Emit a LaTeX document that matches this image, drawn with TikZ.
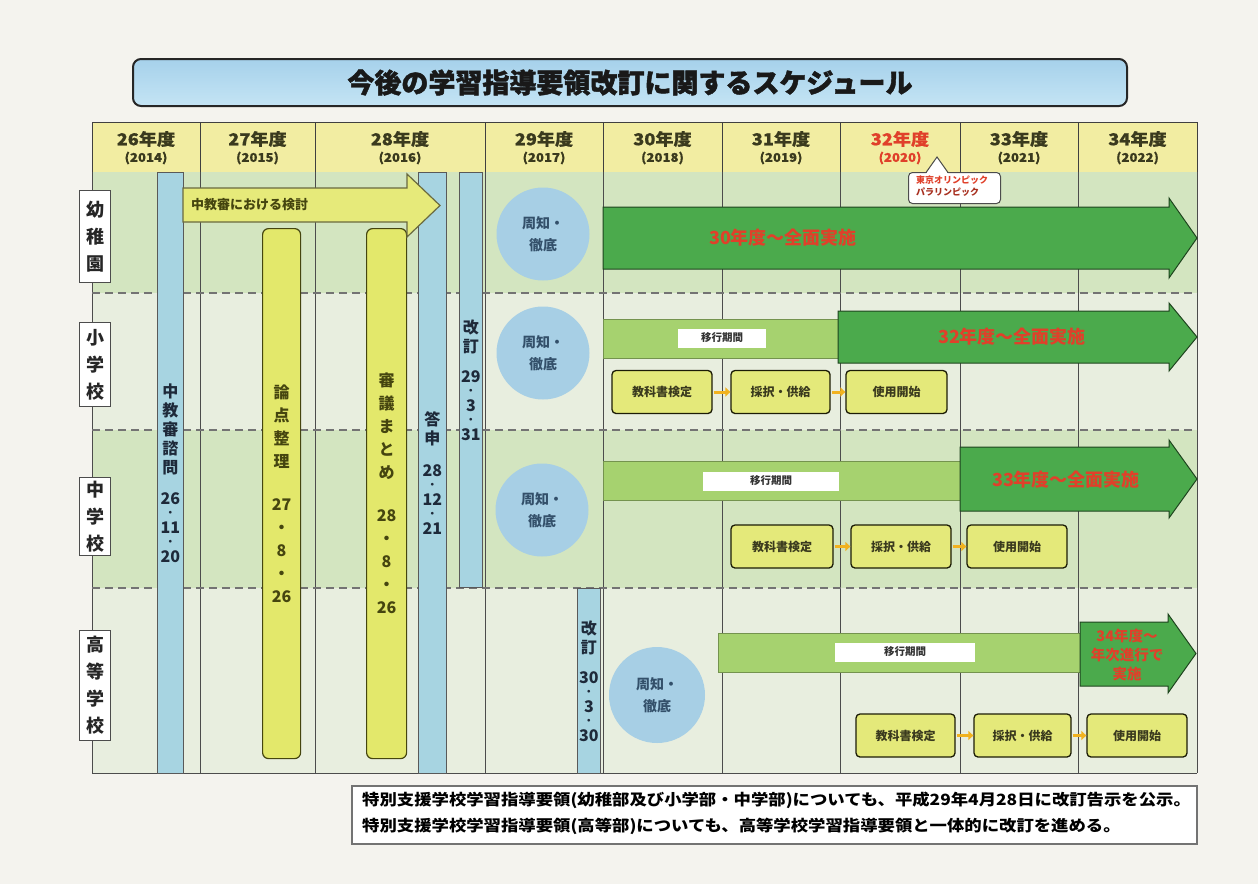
\documentclass[tikz,border=0pt]{standalone}
\usepackage{fontspec}
\setmainfont{Noto Sans CJK JP}
\newfontfamily\heavyfont{Noto Sans CJK JP}[BoldFeatures={FakeBold=1.6}]
\newfontfamily\widefont{Noto Sans CJK JP}[FakeStretch=1.12]
\newfontfamily\hdrfont{Noto Sans CJK JP}[FakeStretch=1.1, BoldFeatures={FakeBold=0.6}]
\usetikzlibrary{arrows.meta,shapes.geometric}
\definecolor{bg}{HTML}{F4F3EE}
\definecolor{hdrY}{HTML}{F2EDA2}
\definecolor{rowA}{HTML}{D3E5C0}
\definecolor{rowB}{HTML}{E8EEDF}
\definecolor{barB}{HTML}{A7D4E1}
\definecolor{circB}{HTML}{A7CFE5}
\definecolor{barY}{HTML}{E3E86B}
\definecolor{boxY}{HTML}{E4E97A}
\definecolor{dkG}{HTML}{4BAA4C}
\definecolor{ltG}{HTML}{A6D26F}
\definecolor{redT}{HTML}{E0402A}
\definecolor{darkT}{HTML}{3A3A1E}
\definecolor{oliveT}{HTML}{45450F}
\definecolor{navyT}{HTML}{1E2A3A}
\definecolor{circT}{HTML}{33506A}
\definecolor{orng}{HTML}{F1B21F}
\definecolor{ttop}{HTML}{A6D1EB}
\definecolor{tmid}{HTML}{ECF6FB}
\definecolor{tbot}{HTML}{C4E4F4}
\newcommand\fatarrow[8]{%
  \draw[#1] (#2,#3) -- (#5,#3) -- (#5,#6) -- (#8,{(#6+#7)/2}) -- (#5,#7) -- (#5,#4) -- (#2,#4) -- cycle;}
\newcommand\smalldot{{\fontsize{10}{10}\selectfont ・}}
\tikzset{
  hdrcell/.style={draw=black!75, line width=0.8pt, fill=hdrY},
  hyear/.style={font=\hdrfont\bfseries\fontsize{16.5}{16}\selectfont, text=darkT, inner sep=0pt},
  hsub/.style={font=\hdrfont\bfseries\fontsize{12}{12}\selectfont, text=darkT, inner sep=0pt},
  gridline/.style={draw=black!70, line width=0.8pt},
  dashline/.style={draw=black!55, line width=1.6pt, dash pattern=on 8pt off 5pt},
  bluebar/.style={draw=black!65, line width=0.8pt, fill=barB, inner sep=0pt, align=center, text=navyT, font=\bfseries\fontsize{16}{19}\selectfont, anchor=north west},
  yelbar/.style={draw=oliveT, line width=1.2pt, fill=barY, rounded corners=6pt, inner sep=0pt, align=center, text=oliveT, font=\bfseries\fontsize{16}{23}\selectfont, anchor=north west},
  yelarrow/.style={draw=oliveT!80, line width=1.2pt, fill=barY!90!white},
  dkarrow/.style={draw=black!60!dkG, line width=1pt, fill=dkG},
  ltbar/.style={draw=black!30!ltG, line width=0.8pt, fill=ltG},
  circ/.style={circle, fill=circB, minimum size=93pt, inner sep=0pt, align=center, text=circT, font=\bfseries\fontsize{14}{22}\selectfont},
  ikolab/.style={fill=white, inner sep=0pt, minimum height=19pt, text=black!80, font=\bfseries\fontsize{10.5}{10}\selectfont},
  bigtxt/.style={text=redT, font=\bfseries\fontsize{18}{18}\selectfont, inner sep=0pt},
  sbox/.style={draw=black!60!oliveT, line width=1.3pt, fill=boxY, rounded corners=4pt, minimum height=43pt, inner sep=0pt, text=darkT, font=\bfseries\fontsize{12}{12}\selectfont},
  conn/.style={draw=orng, line width=3pt, -{Triangle[width=9pt,length=5pt]}, shorten <=1pt, shorten >=0pt},
  lab/.style={draw=black!70, line width=1pt, fill=white, minimum width=31pt, inner sep=0pt, align=center, text=black!85, font=\bfseries\fontsize{18}{27}\selectfont, anchor=north west},
}
\begin{document}
\begin{tikzpicture}[x=1pt,y=-1pt]
\useasboundingbox (0,0) rectangle (1258,884);
\fill[bg] (0,0) rectangle (1258,884);

% title
\node[draw=black!85, line width=2pt, rounded corners=8pt, minimum width=994pt, minimum height=47pt, anchor=north west,
      top color=ttop, middle color=tmid, bottom color=tbot,
      font=\heavyfont\bfseries\fontsize{27}{27}\selectfont, text=black!90] (title) at (132,58) {今後の学習指導要領改訂に関するスケジュール};

% header
\foreach \a/\b/\yr/\wy/\c [count=\i] in {92/200/26/2014/darkT, 200/315/27/2015/darkT, 315/485/28/2016/darkT, 485/603/29/2017/darkT, 603/722/30/2018/darkT, 722/840/31/2019/darkT, 840/960/32/2020/redT, 960/1078/33/2021/darkT, 1078/1197/34/2022/darkT}{
  \draw[hdrcell] (\a,122) rectangle (\b,172);
  \node[hyear, text=\c] (hy\i) at ({(\a+\b)/2},139) {\yr 年度};
  \node[hsub, text=\c] (hs\i) at ({(\a+\b)/2},158) {(\wy)};
}

% row bands
\fill[rowA] (92,172) rectangle (1197,293);
\fill[rowB] (92,293) rectangle (1197,430);
\fill[rowA] (92,430) rectangle (1197,588);
\fill[rowB] (92,588) rectangle (1197,773);
\foreach \x in {92,200,315,485,603,722,840,960,1078,1197} \draw[gridline] (\x,172) -- (\x,773);
\draw[gridline] (92,773) -- (1197,773);
\foreach \y in {293,430,588} \draw[dashline] (92,\y) -- (1197,\y);

% left labels
\node[lab, minimum height=92pt] (L1) at (79,190) {幼\\稚\\園};
\node[lab, minimum height=84pt] (L2) at (79,322) {小\\学\\校};
\node[lab, minimum height=78pt] (L3) at (79,477) {中\\学\\校};
\node[lab, minimum height=110pt] (L4) at (79,630) {高\\等\\学\\校};

% vertical bars
\node[bluebar, minimum width=26pt, minimum height=601pt] (b1) at (157,172)
  {中\\教\\審\\諮\\問\\[12pt]26\\[-6.5pt]\smalldot\\[-2.5pt]11\\[-6.5pt]\smalldot\\[-2.5pt]20};
\node[yelbar, minimum width=38pt, minimum height=530pt] (b2) at (262,228)
  {論\\点\\整\\理\\[20pt]27\\・\\8\\・\\26};
\node[yelbar, minimum width=40pt, minimum height=530pt] (b3) at (366,228)
  {審\\議\\ま\\と\\め\\[20pt]28\\・\\8\\・\\26};
\node[bluebar, minimum width=28pt, minimum height=601pt] (b4) at (418,172)
  {答\\申\\[13pt]28\\[-6.5pt]\smalldot\\[-2.5pt]12\\[-6.5pt]\smalldot\\[-2.5pt]21};
\node[bluebar, minimum width=23pt, minimum height=415pt] (b5) at (459,172)
  {改\\訂\\[11pt]29\\[-6.5pt]\smalldot\\[-2.5pt]3\\[-6.5pt]\smalldot\\[-2.5pt]31};
\node[bluebar, minimum width=23pt, minimum height=185pt] (b6) at (577,588)
  {改\\訂\\[11pt]30\\[-6.5pt]\smalldot\\[-2.5pt]3\\[-6.5pt]\smalldot\\[-2.5pt]30};

% yellow arrow
\fatarrow{yelarrow}{183}{188}{222}{407}{174}{237}{440}
\node[anchor=west, inner sep=0pt, text=oliveT, font=\bfseries\fontsize{13}{13}\selectfont] (kento) at (191,205) {中教審における検討};

% circles
\node[circ] (c1) at (543,234) {周知・\\徹底};
\node[circ] (c2) at (543,353) {周知・\\徹底};
\node[circ] (c3) at (542,510) {周知・\\徹底};
\node[circ, minimum size=96pt] (c4) at (657,695) {周知・\\徹底};

% row 1
\fatarrow{dkarrow}{603}{207}{269}{1169}{198}{278}{1197}
\node[bigtxt] (t1) at (783,238) {30年度～全面実施};

% row 2
\draw[ltbar] (603,319) rectangle (838,358);
\node[ikolab, minimum width=88pt] (i2) at (722,338) {移行期間};
\fatarrow{dkarrow}{838}{311}{363}{1169}{303}{371}{1197}
\node[bigtxt] (t2) at (1012,337) {32年度～全面実施};
\node[sbox, minimum width=100pt] (r2a) at (662,392) {教科書検定};
\node[sbox, minimum width=99pt] (r2b) at (780.5,392) {採択・供給};
\node[sbox, minimum width=101pt] (r2c) at (896.5,392) {使用開始};
\draw[conn] (r2a) -- (r2b);
\draw[conn] (r2b) -- (r2c);

% row 3
\draw[ltbar] (603,461) rectangle (960,500);
\node[ikolab, minimum width=136pt] (i3) at (771,481) {移行期間};
\fatarrow{dkarrow}{960}{447}{511}{1169}{440}{518}{1197}
\node[bigtxt] (t3) at (1066,480) {33年度～全面実施};
\node[sbox, minimum width=102pt] (r3a) at (782,546.5) {教科書検定};
\node[sbox, minimum width=100pt] (r3b) at (901,546.5) {採択・供給};
\node[sbox, minimum width=100pt] (r3c) at (1017,546.5) {使用開始};
\draw[conn] (r3a) -- (r3b);
\draw[conn] (r3b) -- (r3c);

% row 4
\draw[ltbar] (718,633) rectangle (1080,672);
\node[ikolab, minimum width=140pt] (i4) at (905,652) {移行期間};
\fatarrow{dkarrow}{1080}{622}{686}{1168}{614}{693}{1196}
\node[bigtxt, align=center, font=\bfseries\fontsize{14.5}{19}\selectfont] (t4) at (1127,655) {34年度～\\年次進行で\\実施};
\node[sbox, minimum width=99pt] (r4a) at (905.5,735.5) {教科書検定};
\node[sbox, minimum width=97pt] (r4b) at (1022.5,735.5) {採択・供給};
\node[sbox, minimum width=100pt] (r4c) at (1137,735.5) {使用開始};
\draw[conn] (r4a) -- (r4b);
\draw[conn] (r4b) -- (r4c);

% olympic callout
\node[draw=black!70, line width=1pt, fill=white, rounded corners=4pt, minimum width=92pt, minimum height=31pt, anchor=north west] (oly) at (908,172) {};
\fill[white] (926,174) -- (937,157) -- (948,174) -- cycle;
\draw[draw=black!70, line width=1pt] (926,172.5) -- (937,157) -- (948,172.5);
\node[anchor=north west, inner sep=0pt, align=left, font=\bfseries\fontsize{9}{12}\selectfont, text=redT] (olyt) at (916,176) {東京オリンピック\\\textcolor{redT!75!black}{パラリンピック}};

% note
\node[draw=black!55, line width=2pt, fill=white, minimum width=845pt, minimum height=58pt, anchor=north west] (note) at (351,785) {};
\node[anchor=west, inner sep=0pt, align=left, text=black, font=\widefont\bfseries\fontsize{15.5}{26}\selectfont] (notet) at (362,813)
  {特別支援学校学習指導要領(幼稚部及び小学部・中学部)についても、平成29年4月28日に改訂告示を公示。\\特別支援学校学習指導要領(高等部)についても、高等学校学習指導要領と一体的に改訂を進める。};
\end{tikzpicture}
\end{document}
